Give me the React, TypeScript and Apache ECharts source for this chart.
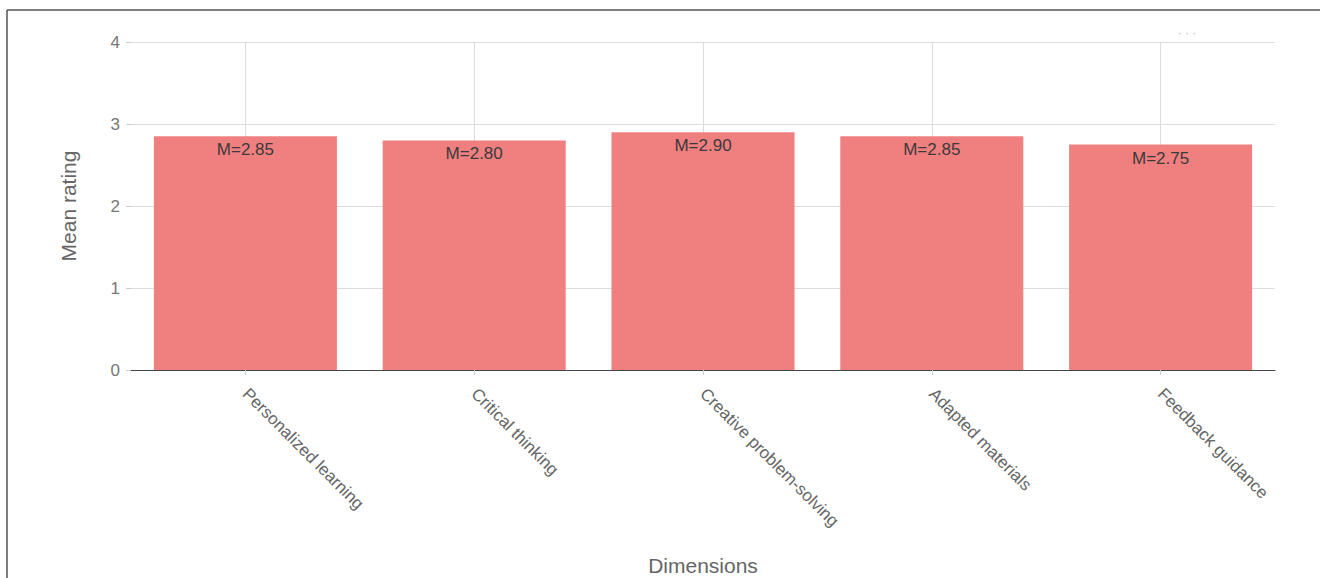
import React, { useEffect, useRef } from "react";
import * as echarts from "echarts";

const categories = [
  "Personalized learning",
  "Critical thinking",
  "Creative problem-solving",
  "Adapted materials",
  "Feedback guidance",
];
const meanValues = [2.85, 2.8, 2.9, 2.85, 2.75];
const yTicks = [0, 1, 2, 3, 4];

const FONT = "'Liberation Sans', Arial, sans-serif";

export default function App() {
  const ref = useRef<HTMLDivElement>(null);
  useEffect(() => {
    if (!ref.current) return;
    const chart = echarts.init(ref.current, undefined, { renderer: "svg" });
    chart.setOption({
      animation: false,
      backgroundColor: "#ffffff",
      textStyle: { fontFamily: FONT },
      grid: { left: 131, right: 45, top: 42, bottom: 208, containLabel: false, outerBoundsMode: "none" },
      graphic: [
        { type: "line", shape: { x1: 7, y1: 10, x2: 1320, y2: 10 }, style: { stroke: "#555", lineWidth: 1.5 } },
        { type: "line", shape: { x1: 7, y1: 10, x2: 7, y2: 578 }, style: { stroke: "#555", lineWidth: 1.5 } },
        {
          type: "text",
          x: 1187,
          y: 33,
          style: { text: "· · ·", fill: "#bbb", font: `12px ${FONT}`, textAlign: "center", textVerticalAlign: "middle" },
        },
      ],
      xAxis: {
        type: "category",
        data: categories,
        name: "Dimensions",
        nameLocation: "middle",
        nameGap: 185,
        nameTextStyle: { fontSize: 21, color: "#666", fontFamily: FONT, verticalAlign: "top" },
        axisLine: { show: true, lineStyle: { color: "#444", width: 1 } },
        axisTick: { show: true, alignWithLabel: true, length: 5, lineStyle: { color: "#ccc" } },
        axisLabel: { rotate: -45, fontSize: 17, color: "#666", margin: 21, fontFamily: FONT },
        splitLine: { show: true, alignWithLabel: true, lineStyle: { color: "#dcdcdc", width: 1 } },
      },
      yAxis: {
        type: "value",
        min: 0,
        max: 4,
        interval: 1,
        name: "Mean rating",
        nameLocation: "middle",
        nameGap: 52,
        nameTextStyle: { fontSize: 21, color: "#666", fontFamily: FONT },
        axisLine: { show: false },
        axisTick: { show: true, length: 5, lineStyle: { color: "#ccc" } },
        axisLabel: {
          fontSize: 17,
          color: "#777",
          margin: 11,
          fontFamily: FONT,
          formatter: (v: number) => (yTicks.includes(v) ? String(v) : ""),
        },
        splitLine: { show: true, lineStyle: { color: "#dcdcdc", width: 1 } },
      },
      series: [
        {
          type: "bar",
          data: meanValues,
          barCategoryGap: "20%",
          itemStyle: { color: "#F08080" },
          label: {
            show: true,
            position: "insideTop",
            distance: 5,
            fontSize: 17,
            color: "#3a3a3a",
            fontFamily: FONT,
            formatter: (p: any) => "M=" + Number(p.value).toFixed(2),
          },
          z: 3,
        },
      ],
    });
    return () => chart.dispose();
  }, []);
  return (
    <div style={{ position: "fixed", left: 0, top: 0, width: 1320, height: 578, background: "#fff" }}>
      <div ref={ref} style={{ width: 1320, height: 578 }} />
    </div>
  );
}
